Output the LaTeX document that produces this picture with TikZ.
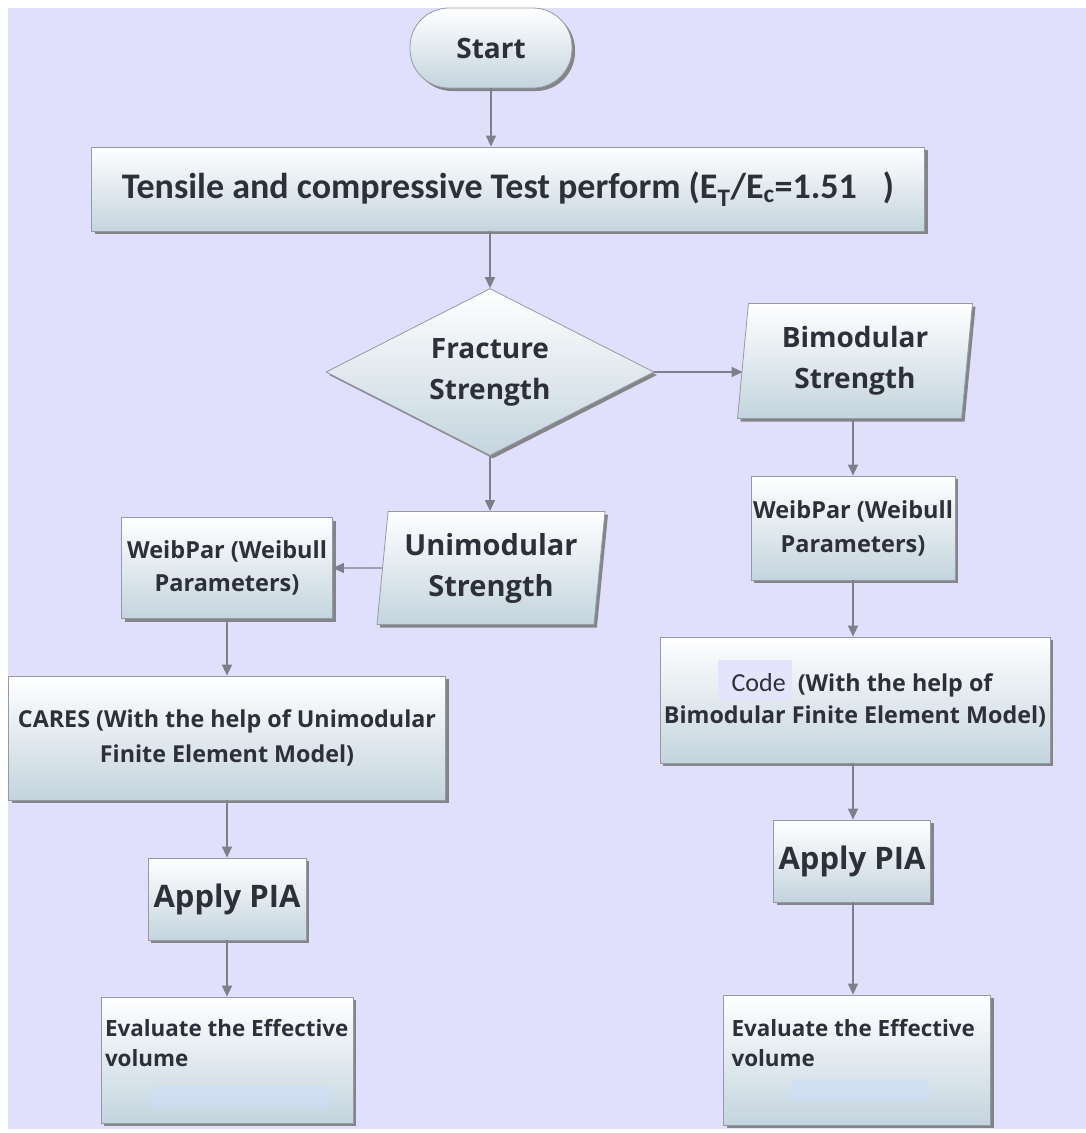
\documentclass[tikz,border=0pt]{standalone}
\usepackage{fontspec}
\setmainfont{Open Sans}
\newfontfamily\calfont{Carlito}
\usetikzlibrary{shapes.geometric,shadows,arrows.meta}
\definecolor{bg}{RGB}{224,224,252}
\definecolor{hl}{RGB}{228,228,252}
\definecolor{boxbot}{RGB}{196,212,222}
\definecolor{boxline}{RGB}{150,155,162}
\definecolor{arr}{RGB}{125,128,138}
\definecolor{txt}{RGB}{45,48,56}
\definecolor{blob}{RGB}{205,222,248}
\newcommand{\fs}[2]{\fontsize{#1}{#2}\selectfont}
\newcommand{\evaltext}[4]{\begin{minipage}[c][#1][t]{#2}\raggedright\leftskip=#3\relax\vspace*{#4}Evaluate the Effective\\volume\end{minipage}}
\begin{document}
\begin{tikzpicture}[x=1pt,y=-1pt,
  box/.style={draw=boxline, line width=0.8pt, top color=white, bottom color=boxbot,
    drop shadow={shadow xshift=3pt, shadow yshift=-3pt, fill=black!60, opacity=0.75},
    text=txt, font=\bfseries, align=center, inner sep=0pt},
  para/.style={box, trapezium, trapezium left angle=81, trapezium right angle=99,
    trapezium stretches body=true},
  conn/.style={draw=arr, line width=1.4pt, -{Triangle[length=11pt,width=10pt]}}]
\fill[white] (0,0) rectangle (1086,1133);
\fill[bg] (8,8) rectangle (1086,1129);

\node[box, rounded corners=39pt, minimum width=162, minimum height=80, font=\bfseries\fs{28}{34}] (start) at (491,48) {Start};
\node[box, minimum width=833, minimum height=84, font=\calfont\bfseries\fs{36}{40}] (tens) at (508,189)
  {Tensile and compressive Test perform (E\textsubscript{T}/E\textsubscript{c}=1.51\hspace{26pt})};
\node[box, diamond, aspect=1.96, minimum width=328, minimum height=167, font=\bfseries\fs{28}{41}] (frac) at (490,372) {Fracture\\Strength};
\node[para, minimum width=235, minimum height=115, font=\bfseries\fs{28}{41}] (bimod) at (855,361) {Bimodular\\Strength};
\node[para, minimum width=228, minimum height=113, font=\bfseries\fs{29}{41}] (unimod) at (491,568) {Unimodular\\Strength};
\node[box, minimum width=211, minimum height=101, font=\bfseries\fs{23.5}{33}] (weibl) at (227,568) {WeibPar (Weibull\\Parameters)};
\node[box, minimum width=437, minimum height=124, font=\bfseries\fs{23.3}{35}] (cares) at (227,738) {CARES (With the help of Unimodular\\Finite Element Model)};
\node[box, minimum width=158, minimum height=82, font=\bfseries\fs{31}{36}] (pial) at (227,899) {Apply PIA};
\node[box, minimum width=252, minimum height=126, align=left, font=\bfseries\fs{22.4}{30}] (evall) at (227,1060) {\evaltext{126pt}{252pt}{4pt}{22pt}};

\node[box, minimum width=204, minimum height=104, font=\bfseries\fs{23.5}{34}] (weibr) at (853,528) {WeibPar (Weibull\\Parameters)};
\node[box, minimum width=390, minimum height=126, font=\bfseries\fs{23.3}{32}] (code) at (855,700)
  {{\setlength{\fboxsep}{0pt}\smash{\colorbox{hl}{\rule[-9pt]{0pt}{40pt}\hspace{14pt}\calfont\mdseries\fs{26}{32}Code\hspace{6pt}}}} (With the help of\\Bimodular Finite Element Model)};
\node[box, minimum width=157, minimum height=82, font=\bfseries\fs{31}{36}] (piar) at (852,861) {Apply PIA};
\node[box, minimum width=267, minimum height=130, align=left, font=\bfseries\fs{22.4}{30}] (evalr) at (857,1060) {\evaltext{130pt}{267pt}{8pt}{24pt}};

\fill[blob, opacity=0.6, rounded corners=8pt] (150,1086) rectangle (330,1108);
\fill[blob, opacity=0.6, rounded corners=8pt] (790,1080) rectangle (930,1102);

\draw[conn] (start.south) -- (start.south |- tens.north);
\draw[conn] (tens.south -| frac.north) -- (frac.north);
\draw[conn] (frac.east) -- (bimod.west |- frac.east);
\draw[conn] (frac.south) -- (frac.south |- unimod.north);
\draw[conn] (unimod.west) -- (weibl.east);
\draw[conn] (weibl.south) -- (cares.north);
\draw[conn] (cares.south) -- (pial.north);
\draw[conn] (pial.south) -- (evall.north);
\draw[conn] (weibr.north |- bimod.south) -- (weibr.north);
\draw[conn] (weibr.south) -- (weibr.south |- code.north);
\draw[conn] (weibr.south |- code.south) -- (weibr.south |- piar.north);
\draw[conn] (weibr.south |- piar.south) -- (weibr.south |- evalr.north);
\useasboundingbox (0,0) rectangle (1086,1133);
\end{tikzpicture}
\end{document}
